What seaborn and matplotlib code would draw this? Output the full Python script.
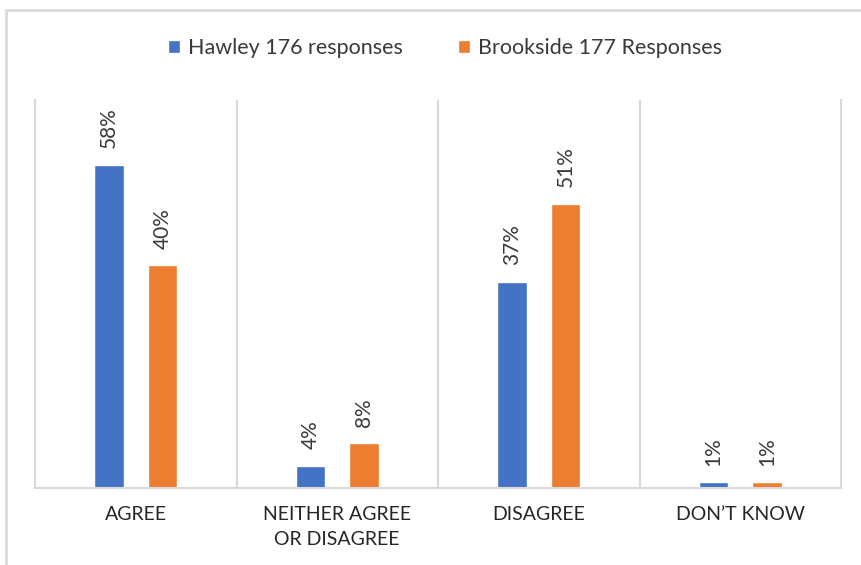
import pandas as pd
import matplotlib.pyplot as plt
import matplotlib.patches as mpatches
import seaborn as sns

# Data
categories = ["AGREE", "NEITHER AGREE\nOR DISAGREE", "DISAGREE", "DON\u2019T KNOW"]
hawley = [58, 4, 37, 1]
brookside = [40, 8, 51, 1]
series_names = ["Hawley 176 responses", "Brookside 177 Responses"]

df = pd.DataFrame({
    "category": categories * 2,
    "pct": hawley + brookside,
    "school": [series_names[0]] * 4 + [series_names[1]] * 4,
})

sns.set_style("white")
plt.rcParams["font.family"] = ["Lato", "DejaVu Sans"]

GRID = "#d9d9d9"
TEXT = "#3a3a3a"

fig = plt.figure(figsize=(8.61, 5.65), dpi=100)
ax = fig.add_axes([35 / 861, 1 - 488 / 565, 806 / 861, 388 / 565])

sns.barplot(data=df, x="category", y="pct", hue="school",
            palette=["#4472C4", "#ED7D31"], width=0.53, gap=0.45,
            saturation=1, ax=ax)

ax.set_xlim(-0.5, 3.5)
ax.set_ylim(0, 69.7)
ax.set_xlabel("")
ax.set_ylabel("")
ax.set_yticks([])

# labels above bars
for cont in ax.containers:
    ax.bar_label(cont, fmt="{:.0f}%", rotation=90, padding=12,
                 fontsize=15, color=TEXT)

# category separators
for x in [0.5, 1.5, 2.5]:
    ax.axvline(x, color=GRID, lw=1.5)
for side in ["left", "right", "bottom"]:
    ax.spines[side].set_color(GRID)
    ax.spines[side].set_linewidth(1.5)
ax.spines["top"].set_visible(False)

ax.tick_params(axis="x", length=0, pad=13, labelsize=14, labelcolor="#262626")
for lbl in ax.get_xticklabels():
    lbl.set_linespacing(1.55)

sns.move_legend(ax, "center", bbox_to_anchor=(445 / 861, 1 - 48 / 565),
                bbox_transform=fig.transFigure, ncol=2, frameon=False,
                title=None, fontsize=15.5, handlelength=0.55, handleheight=0.55,
                handletextpad=0.35, columnspacing=2.6)
for t in ax.get_legend().get_texts():
    t.set_color(TEXT)

# outer chart border
fig.patches.append(mpatches.Rectangle((6 / 861, -0.05), 1.1, 1 - 10 / 565 + 0.05,
                                      transform=fig.transFigure, fill=False,
                                      edgecolor=GRID, lw=2))

fig.savefig("out.png", dpi=100)
